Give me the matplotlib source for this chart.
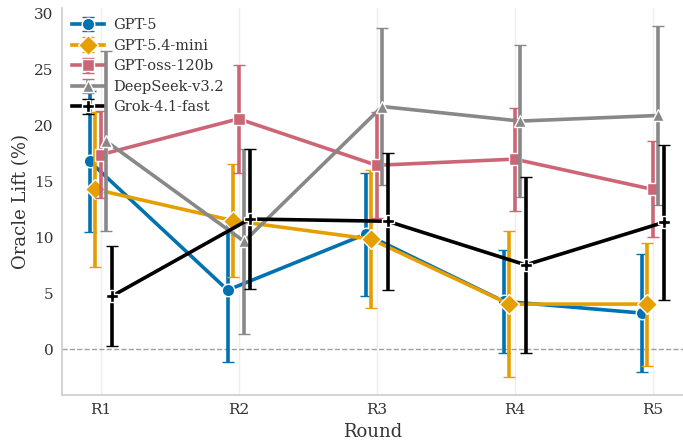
import numpy as np
import matplotlib
matplotlib.use("Agg")
import matplotlib.pyplot as plt

# Oracle lift per round (mean and half-width of the 95% CI), in percent
rounds = ["R1", "R2", "R3", "R4", "R5"]
models = ["GPT-5", "GPT-5.4-mini", "GPT-oss-120b", "DeepSeek-v3.2", "Grok-4.1-fast"]

gpt5_mean = [16.8, 5.3, 10.3, 4.3, 3.25]
gpt5_err = [6.3, 6.45, 5.5, 4.6, 5.3]

mini_mean = [14.3, 11.5, 9.85, 4.05, 4.05]
mini_err = [6.9, 5.05, 6.15, 6.55, 5.5]

oss_mean = [17.4, 20.6, 16.45, 17.0, 14.3]
oss_err = [3.9, 4.8, 4.75, 4.6, 4.3]

deepseek_mean = [18.6, 9.65, 21.7, 20.4, 20.9]
deepseek_err = [8.05, 8.25, 7.0, 6.8, 8.0]

grok_mean = [4.75, 11.65, 11.45, 7.55, 11.35]
grok_err = [4.45, 6.25, 6.1, 7.85, 6.95]

means = [gpt5_mean, mini_mean, oss_mean, deepseek_mean, grok_mean]
errs = [gpt5_err, mini_err, oss_err, deepseek_err, grok_err]

colors = ["#0072B2", "#E69F00", "#CC6677", "#888888", "#000000"]
markers = ["o", "D", "s", "^", "P"]
msizes = [9, 10, 9, 9, 8]

plt.rcParams["font.family"] = ["DejaVu Serif"]

fig = plt.figure(figsize=(6.83, 4.40), dpi=100)
ax = fig.add_axes([0.0908, 0.1023, 0.9092, 0.8795])

x = np.arange(len(rounds))
dodge = 0.16
offsets = np.linspace(0, dodge, len(models)) - dodge / 2

ax.axhline(0, color="#a0a0a0", lw=1.0, ls="--", zorder=1)

for i, name in enumerate(models):
    ax.errorbar(
        x + offsets[i], means[i], yerr=errs[i],
        color=colors[i], lw=2.6, marker=markers[i], ms=msizes[i],
        mec="white", mew=1.0, elinewidth=2.6, capsize=4.5, capthick=1.4,
        label=name, zorder=3 + i,
    )

ax.set_xticks(x)
ax.set_xticklabels(rounds)
ax.set_xlim(-0.28, 4.22)
ax.set_ylim(-4.07, 30.5)
ax.set_yticks([0, 5, 10, 15, 20, 25, 30])

ax.grid(axis="x", color="#efefef", lw=1.0, zorder=0)
ax.grid(axis="y", visible=False)
ax.set_axisbelow(True)

for side in ("top", "right"):
    ax.spines[side].set_visible(False)
for side in ("left", "bottom"):
    ax.spines[side].set_color("#cccccc")
    ax.spines[side].set_linewidth(1.2)

ax.tick_params(axis="both", length=0, labelsize=11, labelcolor="#333333", pad=6)
ax.set_xlabel("Round", fontsize=13, color="#333333", labelpad=4)
ax.set_ylabel("Oracle Lift (%)", fontsize=13, color="#333333", labelpad=3)

leg = ax.legend(loc="upper left", frameon=False, fontsize=10.5,
                borderaxespad=0.3, handlelength=2.2, labelspacing=0.45,
                handletextpad=0.6, bbox_to_anchor=(0.0, 1.0))
for t in leg.get_texts():
    t.set_color("#333333")

fig.savefig("out.png", dpi=100)
